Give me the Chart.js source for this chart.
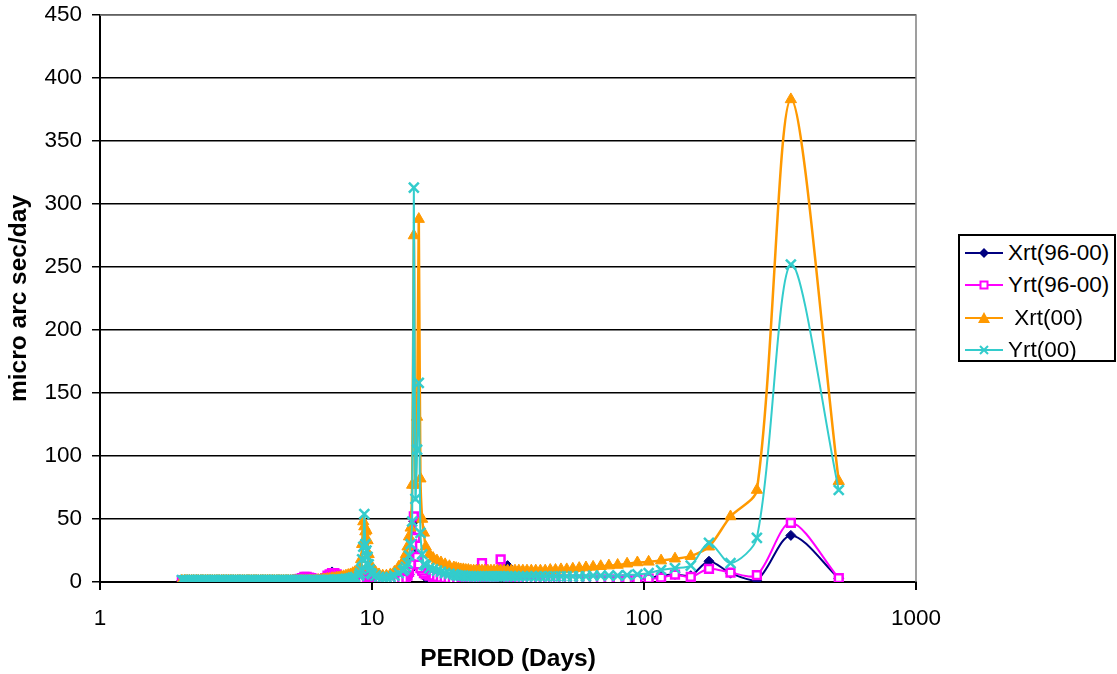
<!DOCTYPE html>
<html>
<head>
<meta charset="utf-8">
<script src="https://cdn.jsdelivr.net/npm/chart.js@4.4.1/dist/chart.umd.min.js"></script>
<style>
  body { margin: 0; background: #fff; }
  #wrap { position: relative; width: 1117px; height: 674px; }
  #legend {
    position: absolute; left: 958px; top: 234px; width: 154px; height: 124px;
    border: 2px solid #000; background: #fff;
    font-family: "Liberation Sans", Arial, sans-serif; font-size: 22.5px; color: #000;
  }
  .item { position: absolute; left: 5px; height: 30px; display: flex; align-items: center; white-space: pre; }
  .item svg { margin-right: 3px; }
</style>
</head>
<body>
<div id="wrap">
  <canvas id="rtChart" width="1117" height="674"></canvas>
  <div id="legend">
    <div class="item" style="top:2px">
      <svg width="40" height="14"><line x1="0" y1="7" x2="38" y2="7" stroke="#000080" stroke-width="2"/><polygon points="19,2 24,7 19,12 14,7" fill="#000080"/></svg>Xrt(96-00)</div>
    <div class="item" style="top:34px">
      <svg width="40" height="14"><line x1="0" y1="7" x2="38" y2="7" stroke="#ff00ff" stroke-width="2"/><rect x="15.5" y="3.5" width="7" height="7" fill="#fff" stroke="#ff00ff" stroke-width="2"/></svg>Yrt(96-00)</div>
    <div class="item" style="top:67px">
      <svg width="40" height="14"><line x1="0" y1="7" x2="38" y2="7" stroke="#ff9900" stroke-width="2"/><polygon points="19,1 25,12 13,12" fill="#ff9900"/></svg> Xrt(00)</div>
    <div class="item" style="top:99px">
      <svg width="40" height="14"><line x1="0" y1="7" x2="38" y2="7" stroke="#33cccc" stroke-width="2"/><path d="M15,3 L23,11 M23,3 L15,11" stroke="#33cccc" stroke-width="2"/></svg>Yrt(00)</div>
  </div>
</div>
<script>
// periods in days, longest first
const periods = [
  520, 346.67, 260, 208, 173.33, 148.57, 130, 115.56, 104, 94.55,
  86.67, 80, 74.29, 69.33, 65, 61.18, 57.78, 54.74, 52, 49.52,
  47.27, 45.22, 43.33, 41.6, 40, 38.52, 37.14, 35.86, 34.67, 33.55,
  32.5, 31.52, 30.59, 29.71, 28.89, 28.11, 27.37, 26.67, 26, 25.37,
  24.76, 24.19, 23.64, 23.11, 22.61, 22.13, 21.67, 21.22, 20.8, 20.39,
  20, 19.26, 18.57, 17.93, 17.33, 16.77, 16.25, 15.76,
  15.52, 15.29, 15.07, 14.86, 14.65, 14.44, 14.25, 14.05, 13.87, 13.68, 13.51, 13.33, 13.16, 13,
  12.53, 12.09, 11.69, 11.3, 10.95, 10.61, 10.3,
  10, 9.9, 9.81, 9.72, 9.63, 9.54, 9.45, 9.37, 9.29, 9.2, 9.12, 9.04, 8.97,
  8.67, 8.5, 8.34, 8.18, 8.02, 7.86, 7.71, 7.56, 7.42, 7.27,
  7.13, 6.99, 6.86, 6.73, 6.6, 6.47, 6.34, 6.22, 6.1, 5.98,
  5.87, 5.75, 5.64, 5.53, 5.43, 5.32, 5.22, 5.12, 5.02, 4.92,
  4.83, 4.73, 4.64, 4.55, 4.47, 4.38, 4.3, 4.21, 4.13, 4.05,
  3.97, 3.9, 3.82, 3.75, 3.68, 3.6, 3.53, 3.47, 3.4, 3.34,
  3.27, 3.21, 3.15, 3.09, 3.03, 2.97, 2.91, 2.85, 2.8, 2.74,
  2.69, 2.64, 2.59, 2.54, 2.49, 2.44, 2.39, 2.35, 2.3, 2.26,
  2.21, 2.17, 2.13, 2.09, 2.05, 2
];

const xrt9600 = [
  3, 37, 1.5, 7, 16.5, 5, 6, 5, 3, 2,
  2, 1.5, 1.5, 1.5, 1.5, 1.2, 1.2, 1, 1, 1,
  1, 1, 1, 1.2, 1.2, 1.5, 1.5, 2, 2, 3,
  6, 13, 6, 11, 4, 2, 2, 1.5, 1.5, 4,
  2, 1.5, 1, 0.8, 0.5, 0.5, 0.5, 0.8, 1, 1,
  1, 1, 1.2, 1.5, 2, 2.5, 3, 4,
  5, 7, 10, 12, 15, 22, 48, 20, 10, 6, 4, 3, 2, 1.5,
  1, 0.8, 0.5, 0.5, 0.5, 0.8, 1.5,
  2, 2.5, 3, 4, 5, 6, 7, 8, 7, 5, 3, 2, 1.5,
  1.5, 1.5, 1.5, 2, 2, 2.5, 3, 4, 5, 7,
  8, 6, 4, 3, 2, 1.5, 1.5, 1.2, 1.2, 1,
  1, 1, 1, 1, 1, 1, 1, 1, 1, 1,
  1, 1, 1, 1, 1, 1, 1, 1, 1, 1,
  1, 1, 1, 1, 1, 1, 1, 1, 1, 1,
  1, 1, 1, 1, 1, 1, 1, 1, 1, 1,
  1, 1, 1, 1, 1, 1, 1, 1, 1, 1,
  1, 1, 1, 1, 1, 1
];

const yrt9600 = [
  3, 47, 5.5, 7.5, 10.5, 4, 5.8, 3.4, 2.6, 2,
  2, 1.8, 1.8, 1.8, 1.8, 1.8, 1.8, 1.8, 2, 2,
  2, 2, 2, 2, 2, 2, 2, 2, 2.5, 2.5,
  3, 4, 6, 18, 5, 3, 2, 2, 3, 15,
  4, 2, 1.5, 1.5, 1.5, 1.5, 1.5, 1.5, 2, 2,
  2, 2, 2.5, 3, 3.5, 4, 5, 6,
  7, 9, 11, 14, 20, 35, 52, 30, 14, 8, 5, 4, 3, 2.5,
  2, 1.5, 1.5, 1.5, 1.5, 2, 2,
  2.5, 3, 3.5, 4, 5, 6, 6, 7, 6, 5, 4, 3, 2,
  2, 2, 2, 2, 2.5, 2.5, 3, 4, 6, 7,
  7, 6, 5, 3, 2, 2, 2, 2, 2.5, 3,
  3.5, 4, 4, 3, 2.5, 2, 1.5, 1.5, 1.2, 1.2,
  1.2, 1.2, 1.2, 1.2, 1.2, 1.2, 1.2, 1.2, 1.2, 1.2,
  1.2, 1.2, 1.2, 1.2, 1.2, 1.2, 1.2, 1.2, 1.2, 1.2,
  1.2, 1.2, 1.2, 1.2, 1.2, 1.2, 1.2, 1.2, 1.2, 1.2,
  1.2, 1.2, 1.2, 1.2, 1.2, 1.2, 1.2, 1.2, 1.2, 1.2,
  1.2, 1.2, 1.2, 1.2, 1.2, 1.2
];

const xrt00 = [
  80, 383, 73, 52, 28, 20.5, 18.5, 17, 16, 15.5,
  14.5, 13.5, 13, 12.5, 12, 11.5, 11, 10.5, 10, 10,
  9.5, 9.5, 9, 9, 9, 9, 9, 9, 9, 9,
  9, 9, 9, 9, 9, 9, 9, 9, 9, 9,
  9, 9, 9, 9, 9.5, 9.5, 10, 10, 10.5, 11,
  11.5, 12.5, 14, 15.5, 17, 19, 22, 28,
  39, 50, 82, 288, 131, 77, 275, 77, 43, 36, 28, 22, 18, 16,
  12, 8, 6, 5, 5, 6, 8,
  10, 12, 15, 22, 33, 41, 40, 44, 48, 30, 18, 12, 9,
  8, 7, 6, 5.5, 5, 4.5, 4, 3.5, 3.5, 3,
  3, 2.5, 2.5, 2, 2, 1.5, 1.5, 1.2, 1.2, 1.2,
  1, 1, 1, 1, 1, 1, 1, 1, 1, 1,
  1, 1, 1, 1, 1, 1, 1, 1, 1, 1,
  1, 1, 1, 1, 1, 1, 1, 1, 1, 1,
  1, 1, 1, 1, 1, 1, 1, 1, 1, 1,
  1, 1, 1, 1, 1, 1, 1, 1, 1, 1,
  1, 1, 1, 1, 1, 1
];

const yrt00 = [
  73, 252, 35, 15, 31, 13, 11, 9.5, 7, 6,
  5.5, 5, 5, 5, 5, 4.5, 4.5, 4.5, 4.5, 4.5,
  4.5, 4.5, 4.5, 4.5, 4.5, 4.5, 4.5, 4.5, 4.5, 4.5,
  4.5, 4.5, 4.5, 4.5, 4.5, 4.5, 4.5, 4.5, 4.5, 4.5,
  4.5, 4.5, 4.5, 4.5, 4.5, 4.5, 5, 5, 5, 5.5,
  6, 6.5, 7, 8, 9, 10, 11, 13,
  14, 22, 39, 158, 105, 66, 313, 48, 30, 21, 15, 12, 10, 9,
  7, 5, 4, 3.5, 3.5, 4, 5,
  6, 7, 10, 14, 20, 25, 30, 54, 28, 18, 10, 7, 5,
  4, 3.5, 3, 2.5, 2.5, 2, 2, 2, 2, 2,
  1.5, 1.5, 1.5, 1.5, 1.5, 1.5, 1.5, 1.5, 1.5, 1.5,
  1.5, 1.5, 1.5, 1.5, 1.5, 1.5, 1.5, 1.5, 1.5, 1.5,
  1.5, 1.5, 1.5, 1.5, 1.5, 1.5, 1.5, 1.5, 1.5, 1.5,
  1.5, 1.5, 1.5, 1.5, 1.5, 1.5, 1.5, 1.5, 1.5, 1.5,
  1.5, 1.5, 1.5, 1.5, 1.5, 1.5, 1.5, 1.5, 1.5, 1.5,
  1.5, 1.5, 1.5, 1.5, 1.5, 1.5, 1.5, 1.5, 1.5, 1.5,
  1.5, 1.5, 1.5, 1.5, 1.5, 1.5
];

const xTicks = [1, 10, 100, 1000];
const yMax = 450, yStep = 50;

const fontFamily = '"Liberation Sans", Arial, sans-serif';
const tickFont = { family: fontFamily, size: 22.5 };
const titleFont = { family: fontFamily, size: 24.5, weight: 'bold' };

function pairs(vals) {
  return periods.map((p, i) => ({ x: p, y: vals[i] }));
}

// plot area frame on the top and right edges
const frame = {
  id: 'frame',
  beforeDatasetsDraw(chart) {
    const a = chart.chartArea, ctx = chart.ctx;
    ctx.save();
    ctx.strokeStyle = '#808080';
    ctx.lineWidth = 1.5;
    ctx.beginPath();
    ctx.moveTo(a.left, a.top);
    ctx.lineTo(a.right, a.top);
    ctx.lineTo(a.right, a.bottom);
    ctx.stroke();
    ctx.restore();
  }
};

new Chart(document.getElementById('rtChart'), {
  type: 'line',
  data: {
    datasets: [
      {
        label: 'Xrt(96-00)', data: pairs(xrt9600), order: 3,
        borderColor: '#000080', backgroundColor: '#000080', borderWidth: 2,
        pointStyle: 'rectRot', pointRadius: 5, pointBorderWidth: 1
      },
      {
        label: 'Yrt(96-00)', data: pairs(yrt9600), order: 2,
        borderColor: '#ff00ff', backgroundColor: '#ff00ff', borderWidth: 2,
        pointStyle: 'rect', pointRadius: 5.5, pointBorderWidth: 2.5, pointBackgroundColor: '#ffffff'
      },
      {
        label: 'Xrt(00)', data: pairs(xrt00), order: 1,
        borderColor: '#ff9900', backgroundColor: '#ff9900', borderWidth: 2.5,
        pointStyle: 'triangle', pointRadius: 6.5, pointBorderWidth: 1
      },
      {
        label: 'Yrt(00)', data: pairs(yrt00), order: 0,
        borderColor: '#33cccc', backgroundColor: '#33cccc', borderWidth: 2,
        pointStyle: 'crossRot', pointRadius: 7, pointBorderWidth: 2.5
      }
    ]
  },
  options: {
    responsive: false,
    animation: false,
    tension: 0.3,
    layout: { padding: { top: 15, right: 201, left: 0, bottom: 0 } },
    plugins: { legend: { display: false }, tooltip: { enabled: false } },
    scales: {
      x: {
        type: 'logarithmic', min: 1, max: 1000,
        afterBuildTicks: s => { s.ticks = xTicks.map(v => ({ value: v })); },
        afterFit: s => { s.height = 92; },
        ticks: {
          color: '#000', font: tickFont, padding: 15,
          autoSkip: false, maxRotation: 0, callback: v => String(v)
        },
        grid: { drawOnChartArea: false, color: '#000', tickLength: 8, lineWidth: 2 },
        border: { color: '#000', width: 2 },
        title: {
          display: true, text: 'PERIOD (Days)', color: '#000',
          font: titleFont, padding: { top: 0, bottom: 0 }
        }
      },
      y: {
        min: 0, max: yMax,
        afterFit: s => { s.width = 100; s.paddingTop = 0; s.paddingBottom = 0; },
        ticks: { stepSize: yStep, color: '#000', font: tickFont, padding: 10 },
        grid: { color: '#000', lineWidth: 1.5, tickLength: 8 },
        border: { color: '#000', width: 2 },
        title: {
          display: true, text: 'micro arc sec/day', color: '#000',
          font: titleFont, padding: { top: 5, bottom: 0 }
        }
      }
    }
  },
  plugins: [frame]
});
</script>
</body>
</html>
